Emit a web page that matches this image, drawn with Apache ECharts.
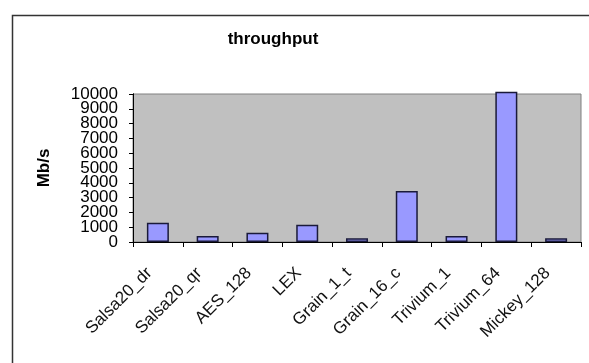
<!DOCTYPE html>
<html><head><meta charset="utf-8">
<script src="https://cdn.jsdelivr.net/npm/echarts@6/dist/echarts.min.js"></script>
<style>html,body{margin:0;padding:0;background:#fff}#c{width:589px;height:363px}</style>
</head><body><div id="c"></div>
<script>
const categories = ['Salsa20_dr','Salsa20_qr','AES_128','LEX','Grain_1_t','Grain_16_c','Trivium_1','Trivium_64','Mickey_128'];
const throughput = [1300, 400, 630, 1170, 250, 3450, 400, 10150, 250];
const yTickLabels = ['0','1000','2000','3000','4000','5000','6000','7000','8000','9000','10000'];
const chart = echarts.init(document.getElementById('c'));
const font = 'Liberation Sans, Arial';
chart.setOption({
  animation: false,
  backgroundColor: '#fff',
  graphic: [{type:'rect', left:10, top:13, shape:{width:640, height:420}, style:{fill:'none', stroke:'#333', lineWidth:1.5}, silent:true, z:-1}],
  title: {text:'throughput', left:268, top:26, textAlign:'center', textStyle:{fontFamily:font, fontSize:17, fontWeight:'bold', color:'#000'}},
  grid: {left:133, right:8, top:94, bottom:121, show:true, backgroundColor:'#c0c0c0', borderColor:'#808080', borderWidth:1},
  xAxis: {type:'category', data:categories,
    axisLine:{lineStyle:{color:'#000', width:1}},
    axisTick:{show:true, alignWithLabel:false, length:5, lineStyle:{color:'#000'}},
    axisLabel:{rotate:45, interval:0, margin:20, padding:[0,12,0,0], color:'#111', fontFamily:font, fontSize:17}},
  yAxis: [{type:'value', min:0, max:10000, interval:1000,
    name:'Mb/s', nameLocation:'middle', nameGap:80, nameRotate:90,
    nameTextStyle:{fontFamily:font, fontSize:17, fontWeight:'bold', color:'#000'},
    axisLine:{show:true, lineStyle:{color:'#000', width:1}},
    axisTick:{show:false}, axisLabel:{show:false}, splitLine:{show:false}},
   {type:'category', data:yTickLabels, boundaryGap:false, position:'left',
    axisLine:{show:true, lineStyle:{color:'#000', width:1}},
    axisTick:{show:true, length:4, interval:0, lineStyle:{color:'#000'}},
    splitLine:{show:false},
    axisLabel:{interval:0, color:'#000', margin:15, fontFamily:font, fontSize:17, hideOverlap:false}}],
  series: [{type:'bar', data:throughput, yAxisIndex:0, barWidth:22, clip:false,
    itemStyle:{color:'#9999ff', borderColor:'#1a1a3a', borderWidth:1.5}}]
});
</script></body></html>
